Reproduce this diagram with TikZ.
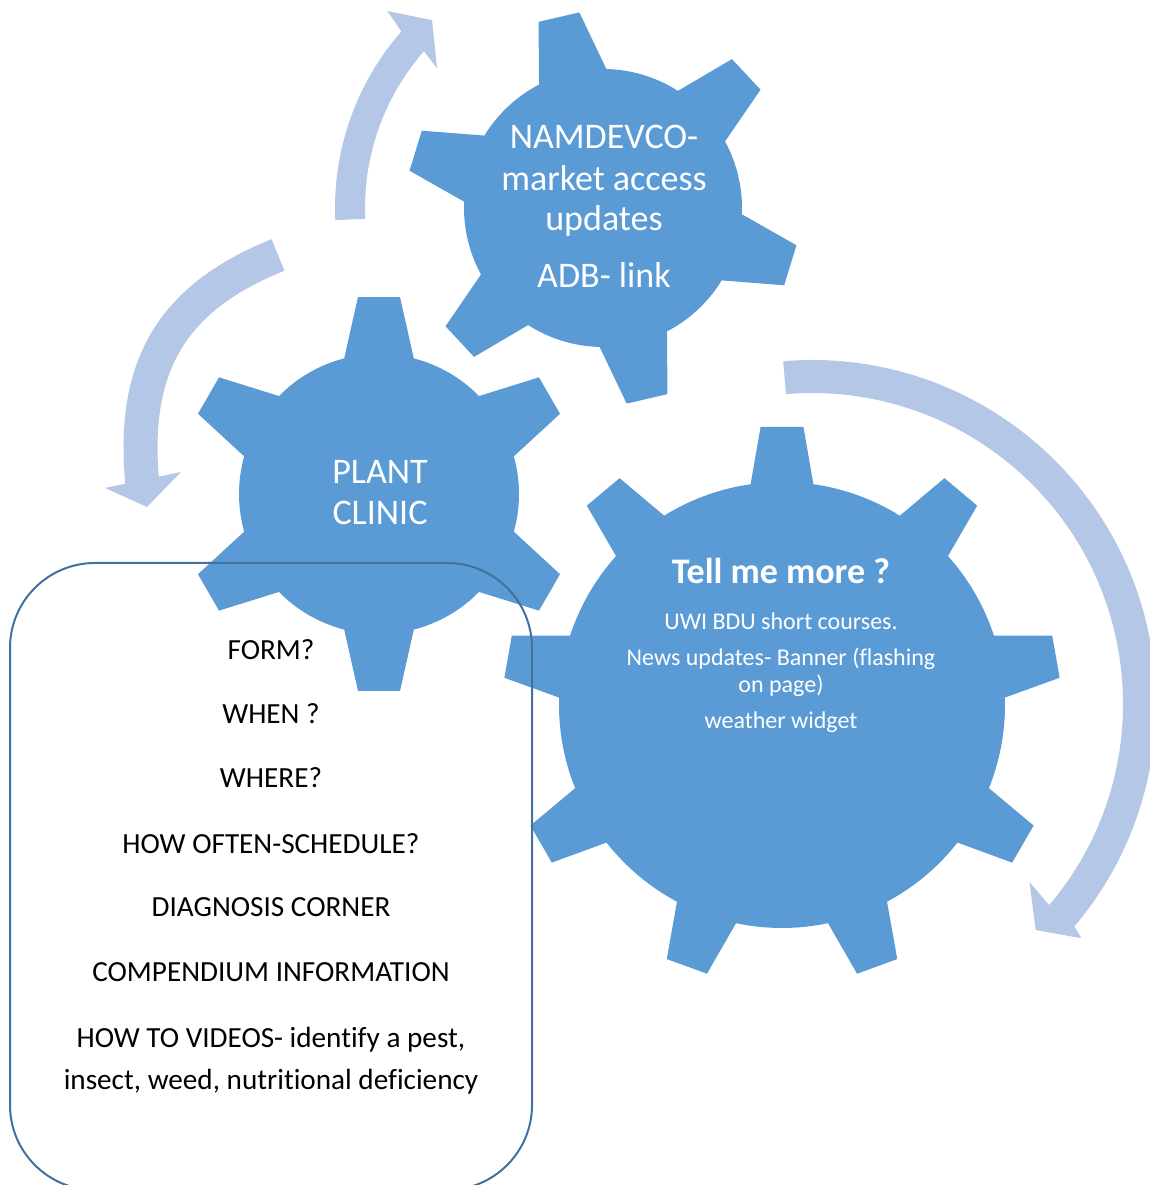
\documentclass[tikz,border=0pt]{standalone}
\usepackage{fontspec}
\setmainfont{Carlito}[Ligatures=NoCommon]
\usepackage{tikz}
\usetikzlibrary{positioning}
\definecolor{gearblue}{RGB}{91,155,213}
\definecolor{cyclelight}{RGB}{180,199,231}
\definecolor{boxline}{RGB}{65,113,156}
\tikzset{gearfill/.style={fill=gearblue}, cyclearrow/.style={fill=cyclelight}, cycleline/.style={draw=cyclelight, line width=34pt}, geartext/.style={text=white, anchor=base, inner sep=0pt, font=\fontsize{36}{41}\selectfont}, smalltext/.style={text=white, anchor=base, inner sep=0pt, font=\fontsize{24}{28}\selectfont}, listtext/.style={text=black, anchor=base, inner sep=0pt, font=\fontsize{29.2}{34}\selectfont}, listbox/.style={draw=boxline, line width=2pt, rounded corners=85pt}}

% centre, first tooth angle, teeth, body radius, tip radius, half angle at body, half angle at tip
\newcommand{\drawgear}[7]{%
  \fill[gearfill] ([shift={({#2-#6}:#4)}]#1)
    \foreach \k [evaluate=\k as \a using #2+(\k-1)*360/#3] in {1,...,#3}{
      -- ([shift={({\a-#7}:#5)}]#1) -- ([shift={({\a+#7}:#5)}]#1)
      -- ([shift={({\a+#6}:#4)}]#1)
      arc[start angle=\a+#6, end angle=\a+360/#3-#6, radius=#4]
    } -- cycle;
}

\begin{document}
\begin{tikzpicture}[x=1pt, y=1pt]
\useasboundingbox (0,0) rectangle (1150,1185);
\coordinate (nam) at (603,977);
\coordinate (clinic) at (379,691);
\coordinate (more) at (782,480);
\coordinate (turn) at (812,481);

% cycle arrows
\fill[cyclearrow] ([shift={(182.6:268)}]nam) arc[start angle=182.6, end angle=138.8, radius=268]
  -- ([shift={(137.6:292)}]nam) -- ([shift={(132.3:254)}]nam) -- ([shift={(139.9:217)}]nam)
  -- ([shift={(138.8:238)}]nam) arc[start angle=138.8, end angle=182.6, radius=238] -- cycle;
\draw[cycleline] (278,930) .. controls (176,889) and (130,823) .. (142.5,700);
\fill[cyclearrow] (105,697) -- (147,678) -- (181,713) -- cycle;
\fill[cyclearrow] ([shift={(94.8:344)}]turn) arc[start angle=94.8, end angle=-40.3, radius=344]
  -- ([shift={(-41:357)}]turn) -- ([shift={(-45.3:318)}]turn) -- ([shift={(-39.3:281)}]turn)
  -- ([shift={(-40.3:311)}]turn) arc[start angle=-40.3, end angle=94.8, radius=311] -- cycle;

% gears
\drawgear{nam}{43}{6}{139}{197}{14.4}{6.1}
\drawgear{clinic}{30}{6}{140}{198}{14.4}{6.1}
\drawgear{more}{90}{9}{223}{279}{8.1}{4.4}

\node[geartext] (nam1) at (604,1036) {NAMDEVCO-};
\node[geartext] (nam2) at (604,994) {market access};
\node[geartext] (nam3) at (604,954) {updates};
\node[geartext] (nam4) at (604,897) {ADB- link};

\node[geartext] (plant1) at (380,701) {PLANT};
\node[geartext] (plant2) at (380,660) {CLINIC};

\node[geartext, font=\fontsize{36}{41}\selectfont\bfseries] (more0) at (781,601) {Tell me more ?};
\node[smalltext] (more1) at (781,555) {UWI BDU short courses.};
\node[smalltext] (more2) at (781,519) {News updates- Banner (flashing};
\node[smalltext] (more3) at (781,492) {on page)};
\node[smalltext] (more4) at (781,456) {weather widget};

% plant clinic questions
\draw[listbox] (10,-5) rectangle (532,622);
\node[listtext] (ask1) at (271,525) {FORM?};
\node[listtext] (ask2) at (271,461) {WHEN ?};
\node[listtext] (ask3) at (271,397) {WHERE?};
\node[listtext] (ask4) at (271,331) {HOW OFTEN-SCHEDULE?};
\node[listtext] (ask5) at (271,268) {DIAGNOSIS CORNER};
\node[listtext] (ask6) at (271,203) {COMPENDIUM INFORMATION};
\node[listtext] (ask7) at (271,137) {HOW TO VIDEOS- identify a pest,};
\node[listtext] (ask8) at (271,95) {insect, weed, nutritional deficiency};
\end{tikzpicture}
\end{document}
